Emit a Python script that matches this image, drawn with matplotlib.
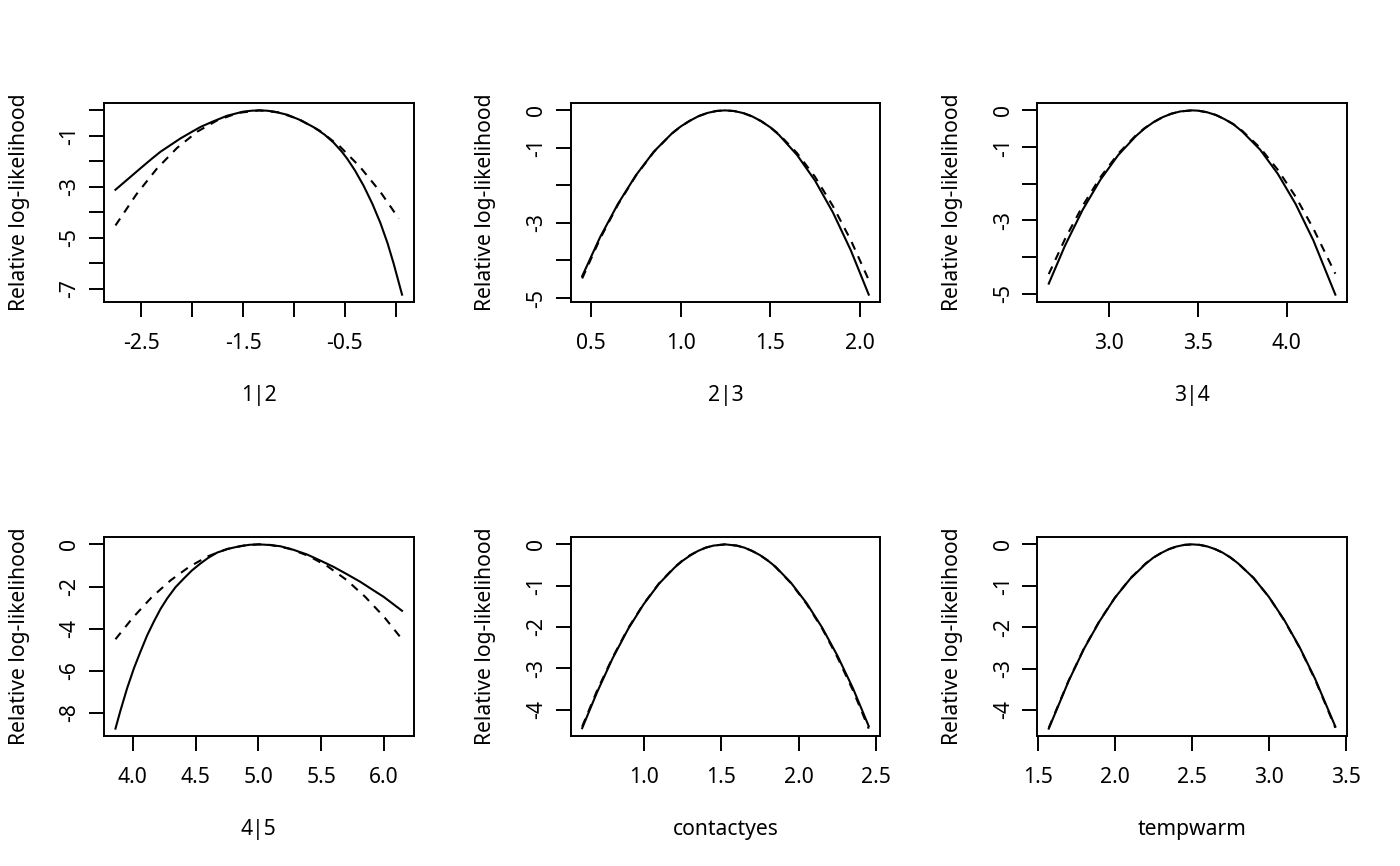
import matplotlib
matplotlib.use('Agg')
import matplotlib.pyplot as plt

plt.rcParams['font.family'] = ['Noto Sans', 'DejaVu Sans']
plt.rcParams['font.size'] = 15.2

# profile (solid) and quadratic approximation (dashed) for each parameter
x_12 = [-2.756, -2.63, -2.51, -2.40, -2.313, -2.20, -2.117, -2.00, -1.92, -1.80, -1.658, -1.50, -1.42, -1.342,
        -1.27, -1.20, -1.068, -0.95, -0.806, -0.70, -0.609, -0.53, -0.478, -0.40, -0.315, -0.23, -0.151,
        -0.08, -0.02, 0.062]
prof_12 = [-3.11, -2.68, -2.27, -1.90, -1.62, -1.32, -1.10, -0.83, -0.65, -0.44, -0.21, -0.05, -0.014, 0.0,
           -0.012, -0.045, -0.17, -0.36, -0.66, -0.95, -1.27, -1.62, -1.89, -2.36, -2.96, -3.66, -4.41,
           -5.21, -6.01, -7.22]
xq_12 = [-2.756, -2.55, -2.35, -2.15, -1.95, -1.75, -1.55, -1.342, -1.15, -0.95, -0.75, -0.55, -0.35, -0.15, 0.03]
quad_12 = [-4.51, -3.29, -2.29, -1.47, -0.83, -0.38, -0.10, 0.0, -0.08, -0.35, -0.79, -1.41, -2.22, -3.20, -4.24]

x_23 = [0.45, 0.55, 0.65, 0.75, 0.85, 0.95, 1.0, 1.05, 1.10, 1.15, 1.20, 1.248, 1.30, 1.35, 1.40, 1.45, 1.5,
        1.55, 1.65, 1.75, 1.85, 1.95, 2.05]
prof_23 = [-4.42, -3.38, -2.49, -1.73, -1.10, -0.62, -0.43, -0.28, -0.154, -0.068, -0.016, 0.0, -0.019,
           -0.073, -0.162, -0.29, -0.45, -0.66, -1.19, -1.87, -2.72, -3.73, -4.91]
quad_23 = [-4.48, -3.42, -2.51, -1.74, -1.11, -0.62, -0.43, -0.28, -0.154, -0.068, -0.016, 0.0, -0.019,
           -0.073, -0.162, -0.29, -0.45, -0.64, -1.14, -1.77, -2.55, -3.46, -4.52]

x_34 = [2.659, 2.75, 2.85, 2.95, 3.05, 3.15, 3.20, 3.25, 3.30, 3.35, 3.40, 3.465, 3.50, 3.55, 3.60, 3.65,
        3.70, 3.75, 3.85, 3.95, 4.05, 4.15, 4.274]
prof_34 = [-4.72, -3.69, -2.71, -1.89, -1.22, -0.70, -0.49, -0.32, -0.187, -0.091, -0.029, 0.0, -0.008,
           -0.050, -0.125, -0.24, -0.38, -0.58, -1.07, -1.73, -2.55, -3.54, -5.02]
quad_34 = [-4.46, -3.51, -2.60, -1.82, -1.18, -0.68, -0.48, -0.32, -0.187, -0.091, -0.029, 0.0, -0.008,
           -0.050, -0.125, -0.235, -0.379, -0.56, -1.02, -1.62, -2.35, -3.22, -4.45]

x_45 = [3.862, 3.90, 3.955, 4.01, 4.061, 4.114, 4.167, 4.22, 4.273, 4.34, 4.406, 4.47, 4.538, 4.60, 4.671,
        4.76, 4.857, 4.93, 5.003, 5.09, 5.175, 5.28, 5.387, 5.49, 5.599, 5.70, 5.812, 5.90, 5.997, 6.07, 6.143]
prof_45 = [-8.74, -7.92, -6.82, -5.86, -5.09, -4.32, -3.67, -3.07, -2.57, -2.03, -1.62, -1.24, -0.91, -0.64,
           -0.39, -0.21, -0.08, -0.02, 0.0, -0.03, -0.09, -0.26, -0.48, -0.76, -1.07, -1.40, -1.78, -2.12,
           -2.49, -2.82, -3.15]
xq_45 = [3.862, 4.0, 4.15, 4.3, 4.45, 4.6, 4.75, 4.9, 5.0025, 5.1, 5.25, 5.4, 5.55, 5.7, 5.85, 6.0, 6.143]
quad_45 = [-4.50, -3.48, -2.51, -1.71, -1.06, -0.56, -0.22, -0.04, 0.0, -0.03, -0.21, -0.55, -1.04, -1.68,
           -2.49, -3.44, -4.50]

x_con = [0.604, 0.70, 0.80, 0.90, 1.00, 1.10, 1.20, 1.25, 1.30, 1.35, 1.40, 1.45, 1.525, 1.60, 1.65, 1.70,
         1.75, 1.80, 1.85, 1.95, 2.05, 2.15, 2.25, 2.35, 2.451]
prof_con = [-4.45, -3.58, -2.76, -2.05, -1.45, -0.95, -0.56, -0.40, -0.27, -0.16, -0.08, -0.03, 0.0, -0.03,
            -0.08, -0.16, -0.26, -0.39, -0.54, -0.93, -1.42, -2.01, -2.70, -3.49, -4.40]
quad_con = [-4.41, -3.54, -2.74, -2.03, -1.44, -0.94, -0.55, -0.39, -0.26, -0.16, -0.08, -0.03, 0.0, -0.03,
            -0.08, -0.16, -0.26, -0.39, -0.55, -0.94, -1.44, -2.03, -2.74, -3.54, -4.46]

x_temp = [1.571, 1.70, 1.80, 1.90, 2.00, 2.10, 2.20, 2.25, 2.30, 2.35, 2.40, 2.45, 2.501, 2.55, 2.60, 2.65,
          2.70, 2.75, 2.80, 2.90, 3.00, 3.10, 3.20, 3.30, 3.431]
prof_temp = [-4.45, -3.30, -2.52, -1.86, -1.29, -0.83, -0.47, -0.32, -0.21, -0.117, -0.052, -0.013, 0.0,
             -0.012, -0.05, -0.114, -0.20, -0.317, -0.46, -0.81, -1.27, -1.83, -2.49, -3.25, -4.40]
quad_temp = [-4.43, -3.29, -2.51, -1.85, -1.29, -0.82, -0.46, -0.32, -0.21, -0.117, -0.052, -0.013, 0.0,
             -0.012, -0.05, -0.114, -0.20, -0.317, -0.46, -0.81, -1.27, -1.84, -2.50, -3.27, -4.43]

names = ['1|2', '2|3', '3|4', '4|5', 'contactyes', 'tempwarm']

xticks = [[-2.5, -2.0, -1.5, -1.0, -0.5, 0.0], [0.5, 1.0, 1.5, 2.0], [3.0, 3.5, 4.0],
          [4.0, 4.5, 5.0, 5.5, 6.0], [1.0, 1.5, 2.0, 2.5], [1.5, 2.0, 2.5, 3.0, 3.5]]
xlabels = [['-2.5', '', '-1.5', '', '-0.5', ''], ['0.5', '1.0', '1.5', '2.0'], ['3.0', '3.5', '4.0'],
           ['4.0', '4.5', '5.0', '5.5', '6.0'], ['1.0', '1.5', '2.0', '2.5'], ['1.5', '2.0', '2.5', '3.0', '3.5']]
yticks = [[0, -1, -2, -3, -4, -5, -6, -7], [0, -1, -2, -3, -4, -5], [0, -1, -2, -3, -4, -5],
          [0, -2, -4, -6, -8], [0, -1, -2, -3, -4], [0, -1, -2, -3, -4]]
ylabels = [['', '-1', '', '-3', '', '-5', '', '-7'], ['0', '-1', '', '-3', '', '-5'],
           ['0', '-1', '', '-3', '', '-5'], ['0', '-2', '-4', '-6', '-8'],
           ['0', '-1', '-2', '-3', '-4'], ['0', '-1', '-2', '-3', '-4']]

curves = [(x_12, prof_12, xq_12, quad_12), (x_23, prof_23, x_23, quad_23), (x_34, prof_34, x_34, quad_34),
          (x_45, prof_45, xq_45, quad_45), (x_con, prof_con, x_con, quad_con),
          (x_temp, prof_temp, x_temp, quad_temp)]

W, H = 1400, 866
fig = plt.figure(figsize=(14, 8.66), dpi=100)
lefts = [104, 570.7, 1037.3]
tops = [103, 537]
aw, ah = 309.5, 199

for i in range(6):
    r, c = divmod(i, 3)
    ax = fig.add_axes([lefts[c] / W, 1 - (tops[r] + ah) / H, aw / W, ah / H])
    xs, ys, xq, yq = curves[i]
    ax.plot(xs, ys, color='black', lw=1.5, solid_joinstyle='round')
    ax.plot(xq, yq, color='black', lw=1.5, linestyle=(0, (4, 3.5)))
    ax.margins(x=0.04, y=0.04)
    ax.set_xticks(xticks[i], xlabels[i])
    ax.set_yticks(yticks[i], ylabels[i])
    ax.tick_params(axis='both', length=10.5, width=1.4, color='black')
    ax.tick_params(axis='x', pad=12)
    ax.tick_params(axis='y', labelrotation=90, pad=6.5)
    for lab in ax.get_yticklabels():
        lab.set_va('center')
    for s in ax.spines.values():
        s.set_linewidth(1.4)
    ax.set_xlabel(names[i])
    ax.xaxis.label.set_va('center')
    ax.xaxis.set_label_coords(0.5, -93 / ah)
    ax.set_ylabel('Relative log-likelihood')
    ax.yaxis.label.set_va('center')
    ax.yaxis.set_label_coords(-85 / aw, 0.5)

fig.savefig('out.png', dpi=100)
